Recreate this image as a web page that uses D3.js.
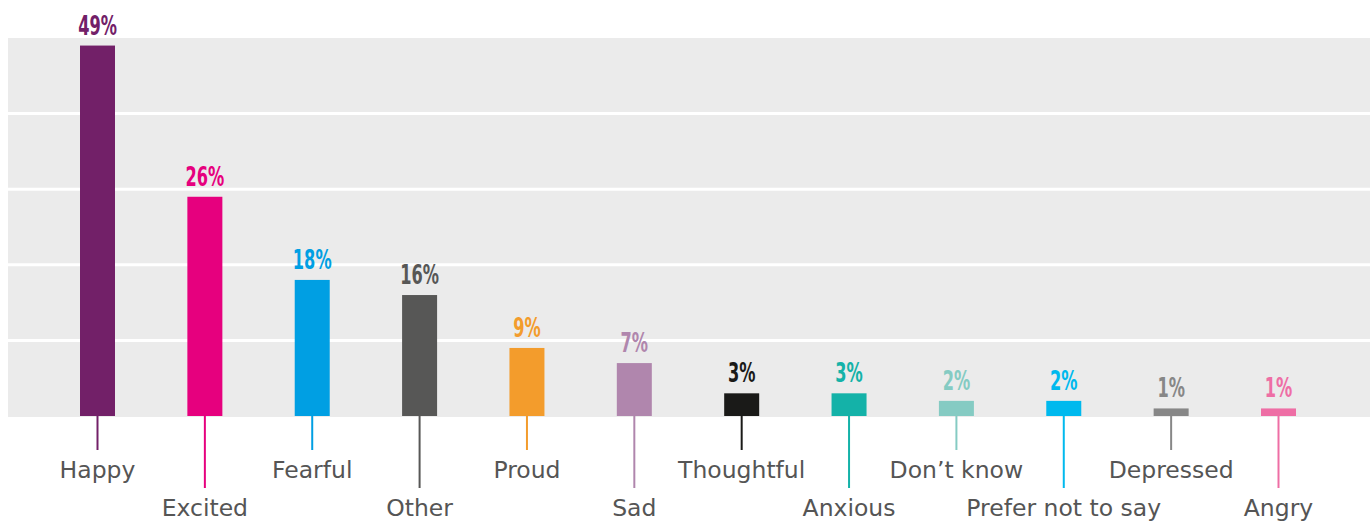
<!DOCTYPE html>
<html>
<head>
<meta charset="utf-8">
<script src="https://cdn.jsdelivr.net/npm/d3@7"></script>
<style>
  body { margin: 0; background: #fff; }
  svg { display: block; }
</style>
</head>
<body>
<script>
const categories = ['Happy', 'Excited', 'Fearful', 'Other', 'Proud', 'Sad', 'Thoughtful',
  'Anxious', 'Don\u2019t know', 'Prefer not to say', 'Depressed', 'Angry'];
// bar heights as drawn in the picture (Excited bar is drawn taller than its label)
const values = [49, 29, 18, 16, 9, 7, 3, 3, 2, 2, 1, 1];
const valueLabels = ['49%', '26%', '18%', '16%', '9%', '7%', '3%', '3%', '2%', '2%', '1%', '1%'];
const colors = ['#722068', '#e6007e', '#009fe3', '#575756', '#f39c2c', '#b086ad', '#1a1a18',
  '#14b2a8', '#85cbc3', '#00b9ee', '#878787', '#ee6ea5'];
const yTicks = [0, 10, 20, 30, 40, 50];

const width = 1370;
const height = 521;
const plotLeft = 8;
const plotRight = 1370;
const plotTop = 38;
const baseline = 416;
const barWidth = 35;

const svg = d3.select('body')
  .append('svg')
  .attr('width', width)
  .attr('height', height);

const xScale = d3.scalePoint()
  .domain(categories)
  .range([97.5, 1278.5]);

const yScale = d3.scaleLinear()
  .domain([0, 50])
  .range([baseline, plotTop]);

// grey plot area
svg.append('rect')
  .attr('x', plotLeft)
  .attr('y', plotTop)
  .attr('width', plotRight - plotLeft)
  .attr('height', baseline - plotTop + 1)
  .attr('fill', '#ebebeb');

// white gridlines
svg.selectAll('line.grid')
  .data(yTicks.slice(1, -1))
  .enter()
  .append('line')
  .attr('class', 'grid')
  .attr('x1', plotLeft)
  .attr('x2', plotRight)
  .attr('y1', (d) => yScale(d))
  .attr('y2', (d) => yScale(d))
  .attr('stroke', '#fff')
  .attr('stroke-width', 3);

const data = categories.map((c, i) => ({
  cat: c, value: values[i], label: valueLabels[i], color: colors[i], i: i
}));

// leader lines under bars
svg.selectAll('line.tick')
  .data(data)
  .enter()
  .append('line')
  .attr('class', 'tick')
  .attr('x1', (d) => xScale(d.cat))
  .attr('x2', (d) => xScale(d.cat))
  .attr('y1', baseline)
  .attr('y2', (d) => d.i % 2 === 0 ? 450 : 488)
  .attr('stroke', (d) => d.color)
  .attr('stroke-width', 2);

svg.selectAll('rect.bar')
  .data(data)
  .enter()
  .append('rect')
  .attr('class', 'bar')
  .attr('x', (d) => xScale(d.cat) - barWidth / 2)
  .attr('y', (d) => yScale(d.value))
  .attr('width', barWidth)
  .attr('height', (d) => baseline - yScale(d.value))
  .attr('fill', (d) => d.color);

// condensed value labels (no narrow font installed, so squeeze horizontally)
svg.selectAll('text.value')
  .data(data)
  .enter()
  .append('text')
  .attr('class', 'value')
  .attr('transform', (d) => 'translate(' + xScale(d.cat) + ',' + (yScale(d.value) - 11) + ') scale(0.6,1)')
  .attr('text-anchor', 'middle')
  .attr('fill', (d) => d.color)
  .style('font-family', '"DejaVu Sans", sans-serif')
  .style('font-weight', 'bold')
  .style('font-size', '27px')
  .text((d) => d.label);

svg.selectAll('text.cat')
  .data(data)
  .enter()
  .append('text')
  .attr('class', 'cat')
  .attr('x', (d) => xScale(d.cat))
  .attr('y', (d) => d.i % 2 === 0 ? 478 : 516)
  .attr('text-anchor', 'middle')
  .attr('fill', '#555555')
  .style('font-family', '"DejaVu Sans", sans-serif')
  .style('font-size', '23.5px')
  .text((d) => d.cat);
</script>
</body>
</html>
